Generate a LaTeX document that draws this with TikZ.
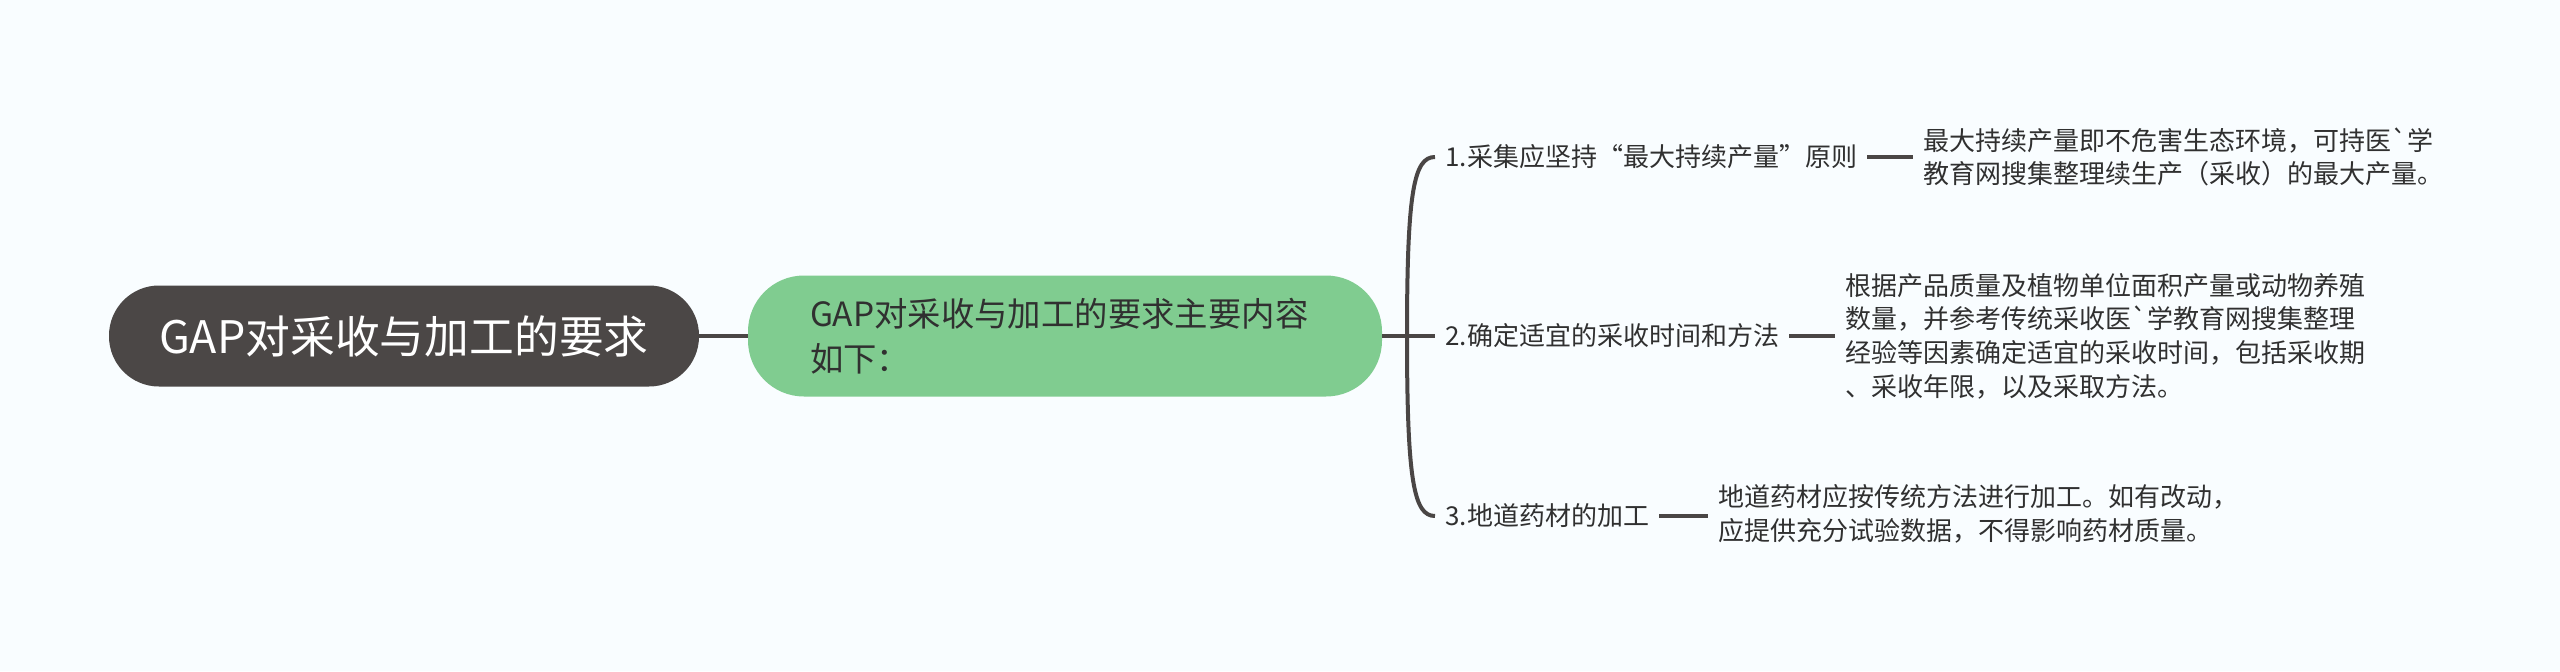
\documentclass[tikz,border=0pt]{standalone}
\usepackage{fontspec}
\setmainfont{Noto Sans CJK SC}
\definecolor{bgc}{HTML}{F9FDFF}
\definecolor{rootc}{HTML}{4B4746}
\definecolor{mainc}{HTML}{80CC90}
\definecolor{linec}{HTML}{4A4645}
\definecolor{txtc}{HTML}{303030}

\begin{document}
\begin{tikzpicture}[x=0.5pt,y=-0.5pt,
  rootbox/.style={fill=rootc,text=white,rounded corners=25pt,minimum width=295pt,minimum height=50.5pt,font=\fontsize{22.4}{26}\selectfont},
  mainbox/.style={fill=mainc,text=txtc,rounded corners=28pt,text width=255pt,inner xsep=31pt,minimum height=60.5pt,align=left,font=\fontsize{16.7}{22.5}\selectfont},
  branch/.style={anchor=west,inner xsep=5pt,text=txtc,font=\fontsize{13}{16.8}\selectfont},
  leaf/.style={branch,align=left},
  link/.style={draw=linec,line width=2pt}]
% canvas, in pixels of the reference (y runs down)
\fill[bgc] (0,0) rectangle (2560,671);
\useasboundingbox (0,0) rectangle (2560,671);
% centre topic and its one child
\node[rootbox] (root) at (404,336) {GAP对采收与加工的要求};
\node[mainbox] (main) at (1065,336) {GAP对采收与加工的要求主要内容\\如下：};
\draw[link] (root.east) -- (main.west);
% three branches off the bracket
\coordinate (fork) at (1407,336);
\node[branch] (b1) at (1435,157) {1.采集应坚持“最大持续产量”原则};
\node[branch] (b2) at (1435,336) {2.确定适宜的采收时间和方法};
\node[branch] (b3) at (1435,516) {3.地道药材的加工};
\draw[link] (main.east) -- (b2.west);
\draw[link] (fork) .. controls (1407,190) and (1414,157) .. (b1.west);
\draw[link] (fork) .. controls (1407,482) and (1414,516) .. (b3.west);
% notes
\node[leaf] (l1) at (1913,157) {最大持续产量即不危害生态环境，可持医\textasciigrave 学\\教育网搜集整理续生产（采收）的最大产量。};
\node[leaf] (l2) at (1835,336) {根据产品质量及植物单位面积产量或动物养殖\\数量，并参考传统采收医\textasciigrave 学教育网搜集整理\\经验等因素确定适宜的采收时间，包括采收期\\、采收年限，以及采取方法。};
\node[leaf] (l3) at (1708,514) {地道药材应按传统方法进行加工。如有改动，\\应提供充分试验数据，不得影响药材质量。};
\foreach \b/\l in {b1/l1,b2/l2,b3/l3} \draw[link] (\b.east) -- (\b.east -| \l.west);
\end{tikzpicture}
\end{document}
